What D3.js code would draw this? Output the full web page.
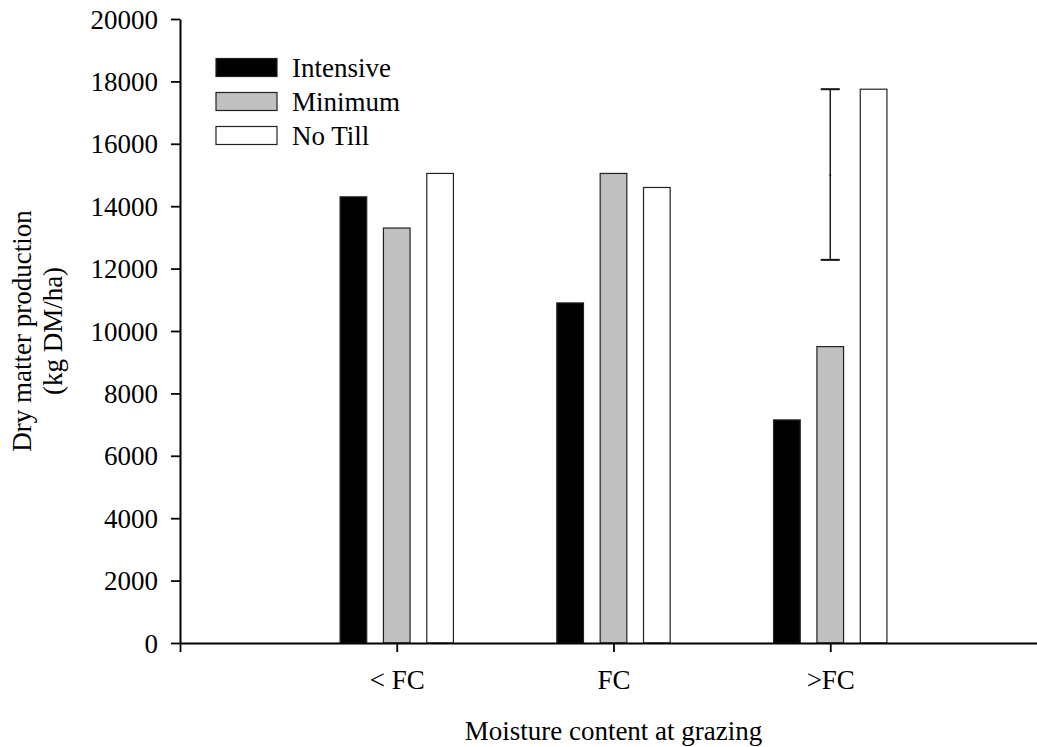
<!DOCTYPE html>
<html>
<head>
<meta charset="utf-8">
<script src="https://cdn.jsdelivr.net/npm/d3@7"></script>
<style>
  body { margin: 0; background: #fff; }
  svg { display: block; }
  text { font-family: "Liberation Serif", "Times New Roman", serif; fill: #000; }
</style>
</head>
<body>
<svg id="chart" width="1037" height="747"></svg>
<script>
// values
var categories = ["< FC", "FC", ">FC"];
var seriesNames = ["Intensive", "Minimum", "No Till"];
var intensive = [14300, 10900, 7150];
var minimum = [13300, 15050, 9500];
var noTill = [15050, 14600, 17750];
var seriesValues = [intensive, minimum, noTill];
var seriesFill = ["#000000", "#c0c0c0", "#ffffff"];
var yTicks = [0, 2000, 4000, 6000, 8000, 10000, 12000, 14000, 16000, 18000, 20000];
// floating error bar over >FC
var errCategory = 3;
var errLow = 12280, errMid = 15000, errHigh = 17750;

var fontSize = 27;
var serif = "'Liberation Serif', 'Times New Roman', serif";
var svg = d3.select("#chart");

// category 1..3 on a linear axis 0..4, origin at the y axis
var x = d3.scaleLinear().domain([0, 4]).range([180, 1047]);
var y = d3.scaleLinear().domain([0, 20000]).range([643, 19]);
var barOffset = [-0.2, 0, 0.2];
var barW = x(0.123) - x(0);

// bars
seriesValues.forEach(function(vals, s) {
    svg.append("g").selectAll("rect")
    .data(vals)
    .enter().append("rect")
    .attr("x", function(d, i) { return x(i + 1 + barOffset[s]) - barW / 2; })
    .attr("y", function(d) { return y(d); })
    .attr("width", barW)
    .attr("height", function(d) { return y(0) - y(d); })
    .style("fill", seriesFill[s])
    .style("stroke", "#222")
    .style("stroke-width", 1.2);
});

// error bar
var ex = x(errCategory);
var eg = svg.append("g").style("stroke", "#111").style("stroke-width", 1.4);
eg.append("line").attr("x1", ex).attr("x2", ex).attr("y1", y(errHigh)).attr("y2", y(errLow));
eg.append("line").attr("x1", ex - 9.5).attr("x2", ex + 9.5).attr("y1", y(errHigh)).attr("y2", y(errHigh)).style("stroke-width", 2);
eg.append("line").attr("x1", ex - 9.5).attr("x2", ex + 9.5).attr("y1", y(errLow)).attr("y2", y(errLow)).style("stroke-width", 2);
eg.append("line").attr("x1", ex - 1).attr("x2", ex + 1).attr("y1", y(errMid)).attr("y2", y(errMid)).style("stroke-width", 1);

// y axis
var yAxis = svg.append("g")
    .attr("transform", "translate(" + x(0) + ",0)")
    .call(d3.axisLeft(y).tickValues(yTicks).tickSize(9).tickSizeOuter(0).tickPadding(13).tickFormat(d3.format("d")));

// x axis
var xAxis = svg.append("g")
    .attr("transform", "translate(0," + y(0) + ")")
    .call(d3.axisBottom(x).tickValues([0, 1, 2, 3]).tickSize(9).tickSizeOuter(0)
        .tickFormat(function(d) { return d === 0 ? "" : categories[d - 1]; }));

[yAxis, xAxis].forEach(function(a) {
    a.attr("font-family", null).attr("font-size", null);
    a.select(".domain").style("stroke", "#000").style("stroke-width", 2);
    a.selectAll(".tick line").style("stroke", "#000").style("stroke-width", 1.8);
    a.selectAll("text").style("font-family", serif).style("font-size", fontSize + "px").style("fill", "#000");
});
yAxis.selectAll(".tick text").attr("dy", "0.34em");
xAxis.selectAll(".tick text").attr("y", 27).attr("dy", "0.7em");

// axis titles
svg.append("text")
    .attr("x", x(2)).attr("y", 740)
    .attr("text-anchor", "middle")
    .style("font-family", serif)
    .style("font-size", fontSize + "px")
    .text("Moisture content at grazing");

var yMid = (y(0) + y(20000)) / 2;
svg.append("text")
    .attr("transform", "translate(31," + yMid + ") rotate(-90)")
    .attr("text-anchor", "middle")
    .style("font-family", serif)
    .style("font-size", fontSize + "px")
    .text("Dry matter production");
svg.append("text")
    .attr("transform", "translate(62," + yMid + ") rotate(-90)")
    .attr("text-anchor", "middle")
    .style("font-family", serif)
    .style("font-size", fontSize + "px")
    .text("(kg DM/ha)");

// legend
var legend = svg.append("g").selectAll("g")
    .data(seriesNames)
    .enter().append("g")
    .attr("transform", function(d, i) { return "translate(216," + (58.5 + i * 34) + ")"; });
legend.append("rect")
    .attr("width", 61).attr("height", 18)
    .style("fill", function(d, i) { return seriesFill[i]; })
    .style("stroke", "#222")
    .style("stroke-width", 1.2);
legend.append("text")
    .attr("x", 76).attr("y", 18.5)
    .style("font-family", serif)
    .style("font-size", fontSize + "px")
    .text(function(d) { return d; });
</script>
</body>
</html>
